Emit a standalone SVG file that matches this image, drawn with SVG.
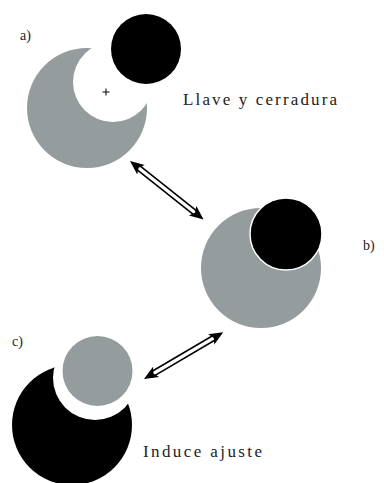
<svg xmlns="http://www.w3.org/2000/svg" width="384" height="483" viewBox="0 0 384 483">
<style>
.gray{fill:#949c9e}
.blk{fill:#000}
.lbl{font-family:"Liberation Serif","DejaVu Serif",serif;font-size:17px;fill:#222}
.sm{font-family:"Liberation Serif","DejaVu Serif",serif;font-size:14px;fill:#222}
.shaft{stroke:#000;stroke-width:1.6;fill:none}
</style>
<defs>
<mask id="mA"><rect width="384" height="483" fill="#fff"/><circle cx="113" cy="82" r="40" fill="#000"/></mask>
<mask id="mC"><rect width="384" height="483" fill="#fff"/><circle cx="95" cy="378" r="42" fill="#000"/></mask>
</defs>
<rect width="384" height="483" fill="#fff"/>
<g id="nodeA">
<circle class="gray" cx="87" cy="108" r="60" mask="url(#mA)"/>
<circle class="blk" cx="146" cy="49" r="35"/>
<path d="M102.5 92h7M106 88.5v7" stroke="#000" stroke-width="1"/>
<text class="sm" x="20" y="40">a)</text>
<text class="lbl" x="183" y="105" textLength="154" lengthAdjust="spacing">Llave y cerradura</text>
</g>
<g id="nodeB">
<circle class="gray" cx="261" cy="268" r="60"/>
<circle class="blk" cx="286" cy="234" r="36" stroke="#fff" stroke-width="1.5"/>
<text class="sm" x="363" y="250">b)</text>
</g>
<g id="nodeC">
<circle class="blk" cx="72" cy="425" r="60" mask="url(#mC)"/>
<circle class="gray" cx="97.5" cy="371" r="35"/>
<text class="sm" x="12" y="346">c)</text>
<text class="lbl" x="143" y="457" textLength="119" lengthAdjust="spacing">Induce ajuste</text>
</g>
<g id="connectors">
<g transform="translate(130,161) rotate(38.5)">
<path class="shaft" d="M8 -2.5H86M8 2.5H86"/>
<path d="M0 0L14 -6L11 0L14 6Z" fill="#000"/>
<path d="M94 0L80 -6L83 0L80 6Z" fill="#000"/>
</g>
<g transform="translate(144,379) rotate(-30.5)">
<path class="shaft" d="M8 -2.5H84M8 2.5H84"/>
<path d="M0 0L14 -6L11 0L14 6Z" fill="#000"/>
<path d="M92 0L78 -6L81 0L78 6Z" fill="#000"/>
</g>
</g>
</svg>
